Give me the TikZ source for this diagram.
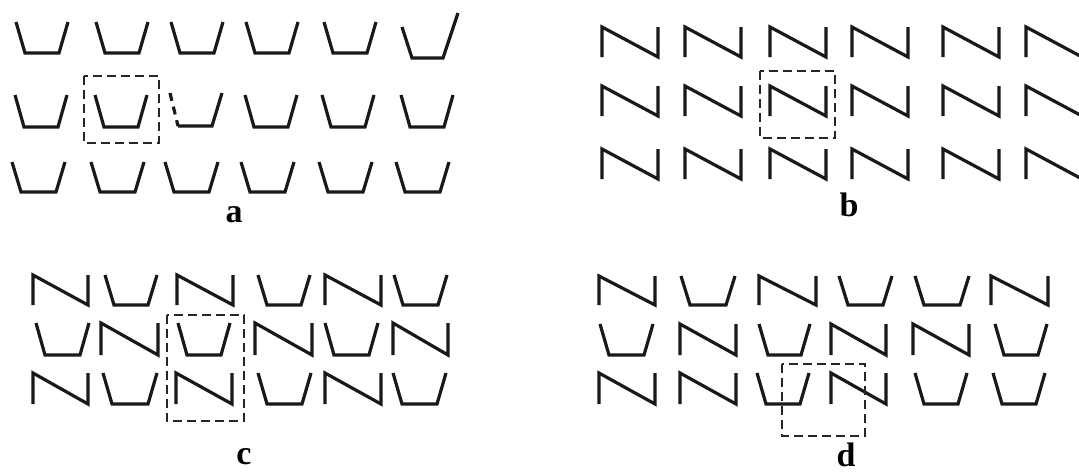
\documentclass[tikz,border=0pt]{standalone}
\usepackage{fontspec}
\setmainfont{Liberation Serif}
\usetikzlibrary{positioning}

% one motif per shape: left x, right x, top y, bottom y
\newcommand{\shapeu}[4]{\draw[motif] (#1,#3) -- (#1+9,#4) -- (#2-9,#4) -- (#2,#3);}
\newcommand{\shapen}[4]{\draw[motif] (#1,#4) -- (#1,#3) -- (#2,#4) -- (#2,#3);}

\begin{document}
\begin{tikzpicture}[
  x=0.5pt, y=-0.5pt,
  motif/.style={line width=1.6pt, draw=black!90},
  selbox/.style={line width=1.3pt, draw=black!85, dash pattern=on 4.5pt off 2.5pt},
  lbl/.style={anchor=base, font=\fontsize{17}{19}\selectfont\bfseries},
]
\clip (0,0) rectangle (1079,472);

% === Panel a ===
\foreach \xa in {16,96,171,246,324} \shapeu{\xa}{\xa+52}{22}{53};
\draw[motif] (402,27) -- (412,58) -- (443,58) -- (458,13);
\foreach \xa in {15,95,245,322,401} \shapeu{\xa}{\xa+52}{95}{127};
\draw[motif, dash pattern=on 4pt off 3pt] (170,93) -- (178,126);
\draw[motif] (178,126) -- (212,126) -- (222,93);
\foreach \xa in {12,91,165,241,319,396} \shapeu{\xa}{\xa+53}{162}{192};
\draw[selbox] (84,76) rectangle (159,143);
\node[lbl] (la) at (234,222) {a};

% === Panel b ===
\foreach \yt in {27,86,149}
  \foreach \xa in {602,685,770,852,943,1026}
    \shapen{\xa}{\xa+56}{\yt}{\yt+30};
\draw[selbox] (760,71) rectangle (835,138);
\node[lbl] (lb) at (849,216) {b};

% === Panel c ===
\foreach \kind/\xa/\xb in {n/33/88, u/105/157, n/177/233, u/258/310, n/325/381, u/394/447}
  \csname shape\kind\endcsname{\xa}{\xb}{275}{305};
\foreach \kind/\xa/\xb in {u/36/89, n/101/158, u/178/230, n/255/312, u/325/378, n/393/448}
  \csname shape\kind\endcsname{\xa}{\xb}{323}{355};
\foreach \kind/\xa/\xb in {n/33/88, u/103/157, n/176/232, u/258/311, n/325/381, u/393/446}
  \csname shape\kind\endcsname{\xa}{\xb}{373}{404};
\draw[selbox] (167,315) rectangle (244,421);
\node[lbl] (lc) at (244,464) {c};

% === Panel d ===
\foreach \kind/\xa/\xb in {n/599/655, u/681/735, n/759/816, u/839/892, u/915/969, n/991/1048}
  \csname shape\kind\endcsname{\xa}{\xb}{276}{305};
\foreach \kind/\xa/\xb in {u/600/653, n/680/736, u/759/810, n/831/886, n/913/969, u/995/1047}
  \csname shape\kind\endcsname{\xa}{\xb}{324}{355};
\foreach \kind/\xa/\xb in {n/599/655, n/680/736, u/757/809, n/831/886, u/915/967, u/993/1045}
  \csname shape\kind\endcsname{\xa}{\xb}{373}{404};
\draw[selbox] (782,364) rectangle (865,436);
\node[lbl] (ld) at (846,466) {d};

\end{tikzpicture}
\end{document}
